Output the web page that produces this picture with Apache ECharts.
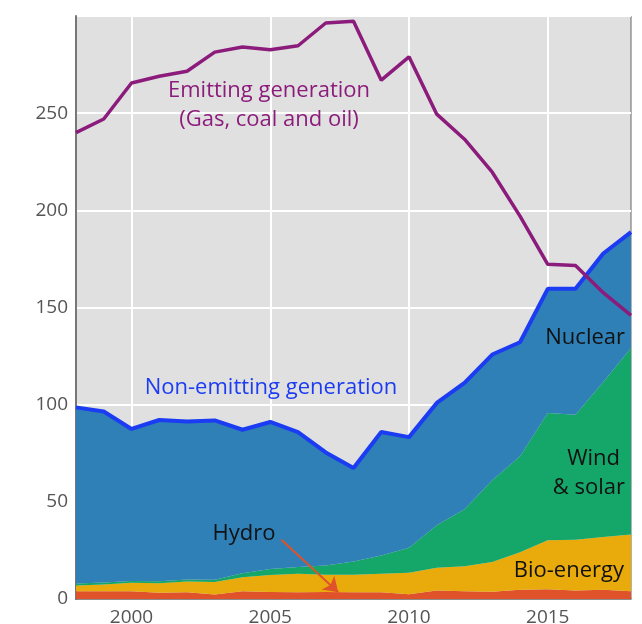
<!DOCTYPE html>
<html>
<head>
<meta charset="utf-8">
<script src="https://cdn.jsdelivr.net/npm/echarts@6/dist/echarts.min.js"></script>
<style>html,body{margin:0;padding:0;background:#fff;}#c{width:642px;height:624px;}</style>
</head>
<body>
<div id="c"></div>
<script>
var years = ['1998','1999','2000','2001','2002','2003','2004','2005','2006','2007','2008','2009','2010','2011','2012','2013','2014','2015','2016','2017','2018'];
var hydro = [4.0,4.0,4.0,3.2,3.5,2.3,4.0,3.6,3.5,3.6,3.5,3.5,2.5,4.4,4.0,3.7,4.7,5.0,4.4,4.7,4.0];
var bioenergy = [3.0,3.5,4.3,4.9,5.5,6.4,7.2,8.8,9.5,8.9,9.0,9.5,11.0,11.7,12.8,15.3,19.4,25.2,26.1,27.2,29.2];
var windSolar = [1.0,1.0,1.0,1.0,1.0,1.2,2.0,3.0,3.5,4.8,6.8,9.4,12.9,21.9,29.4,42.1,49.4,65.5,64.3,79.7,96.0];
var nuclear = [90.6,88.0,78.2,83.0,81.4,82.0,73.9,75.7,69.4,58.1,48.1,63.5,56.9,62.9,65.0,64.7,58.6,63.9,64.8,66.2,59.6];
var emitting = [240,247,265.5,269,271.6,281.4,284,282.6,284.7,296.4,297.3,267,279,249.5,236.6,219.6,197,172.2,171.6,157.6,146];
var xTickLabels = ['2000','2005','2010','2015'];
var yTickLabels = [0,50,100,150,200,250];
var hydroArrow = [[2005.4, 30.5], [2007.45, 3.5]];

var FONT = 'Open Sans';
var chart = echarts.init(document.getElementById('c'), null, {renderer:'canvas'});
function isTick(idx, val){ return xTickLabels.indexOf(String(val)) >= 0; }
function gridTick(idx){ return xTickLabels.indexOf(years[idx]) >= 0; }

chart.setOption({
  animation: false,
  backgroundColor: '#ffffff',
  grid: {left: 76, right: 11, top: 16, bottom: 25, containLabel: false, outerBoundsMode: 'none', show: true, backgroundColor: '#e0e0e0', borderColor: '#666', borderWidth: 1},
  xAxis: [{
    type: 'category', data: years, boundaryGap: false,
    axisLine: {show: true, lineStyle: {color: '#666', width: 1.5}},
    axisTick: {show: false},
    axisLabel: {color: '#555', fontSize: 19, fontFamily: FONT, margin: 9, interval: isTick},
    splitLine: {show: true, interval: gridTick, lineStyle: {color: '#ffffff', width: 2}}
  }, {
    type: 'value', min: 1998, max: 2018, show: false
  }],
  yAxis: {
    type: 'value', min: 0, max: 300, interval: 50,
    axisLine: {show: true, lineStyle: {color: '#777', width: 2}},
    axisTick: {show: false},
    axisLabel: {color: '#555', fontSize: 19, fontFamily: FONT, margin: 8,
      formatter: function(v){ return yTickLabels.indexOf(v) >= 0 ? String(v) : ''; }},
    splitLine: {show: true, lineStyle: {color: '#ffffff', width: 2}}
  },
  series: [
    {name: 'Hydro', type: 'line', stack: 'gen', data: hydro, symbol: 'none', lineStyle: {width: 0}, areaStyle: {color: '#e0522a', opacity: 1}, z: 2},
    {name: 'Bio-energy', type: 'line', stack: 'gen', data: bioenergy, symbol: 'none', lineStyle: {width: 0}, areaStyle: {color: '#e9ab0b', opacity: 1}, z: 2},
    {name: 'Wind & solar', type: 'line', stack: 'gen', data: windSolar, symbol: 'none', lineStyle: {width: 0}, areaStyle: {color: '#15a76a', opacity: 1}, z: 2},
    {name: 'Nuclear', type: 'line', stack: 'gen', data: nuclear, symbol: 'none', lineStyle: {width: 4, color: '#1b3cf2'}, areaStyle: {color: '#2e80b7', opacity: 1}, z: 3},
    {name: 'Emitting', type: 'line', data: emitting, symbol: 'none', lineStyle: {width: 3.5, color: '#8c1c7c'}, z: 4},
    {name: 'arrow', type: 'line', xAxisIndex: 1, data: [], symbol: 'none', z: 5,
      markLine: {silent: true, symbol: ['none', 'arrow'], symbolSize: 14, animation: false,
        label: {show: false},
        itemStyle: {color: '#e0522a'},
        lineStyle: {color: '#e0522a', width: 2, type: 'solid'},
        data: [[{coord: hydroArrow[0]}, {coord: hydroArrow[1]}]]}
    }
  ],
  graphic: [
    {type: 'text', style: {x: 269, y: 91, text: 'Emitting generation', fill: '#8c1c7c', font: '22px "Open Sans"', textAlign: 'center', textVerticalAlign: 'middle'}, z: 10},
    {type: 'text', style: {x: 269, y: 120, text: '(Gas, coal and oil)', fill: '#8c1c7c', font: '22px "Open Sans"', textAlign: 'center', textVerticalAlign: 'middle'}, z: 10},
    {type: 'text', style: {x: 271, y: 388, text: 'Non-emitting generation', fill: '#1b3cf2', font: '22px "Open Sans"', textAlign: 'center', textVerticalAlign: 'middle'}, z: 10},
    {type: 'text', style: {x: 625, y: 338, text: 'Nuclear', fill: '#111', font: '22px "Open Sans"', textAlign: 'right', textVerticalAlign: 'middle'}, z: 10},
    {type: 'text', style: {x: 620, y: 459, text: 'Wind', fill: '#111', font: '22px "Open Sans"', textAlign: 'right', textVerticalAlign: 'middle'}, z: 10},
    {type: 'text', style: {x: 625, y: 488, text: '& solar', fill: '#111', font: '22px "Open Sans"', textAlign: 'right', textVerticalAlign: 'middle'}, z: 10},
    {type: 'text', style: {x: 624, y: 571, text: 'Bio-energy', fill: '#111', font: '22px "Open Sans"', textAlign: 'right', textVerticalAlign: 'middle'}, z: 10},
    {type: 'text', style: {x: 244, y: 534, text: 'Hydro', fill: '#111', font: '22px "Open Sans"', textAlign: 'center', textVerticalAlign: 'middle'}, z: 10}
  ]
});
</script>
</body>
</html>
